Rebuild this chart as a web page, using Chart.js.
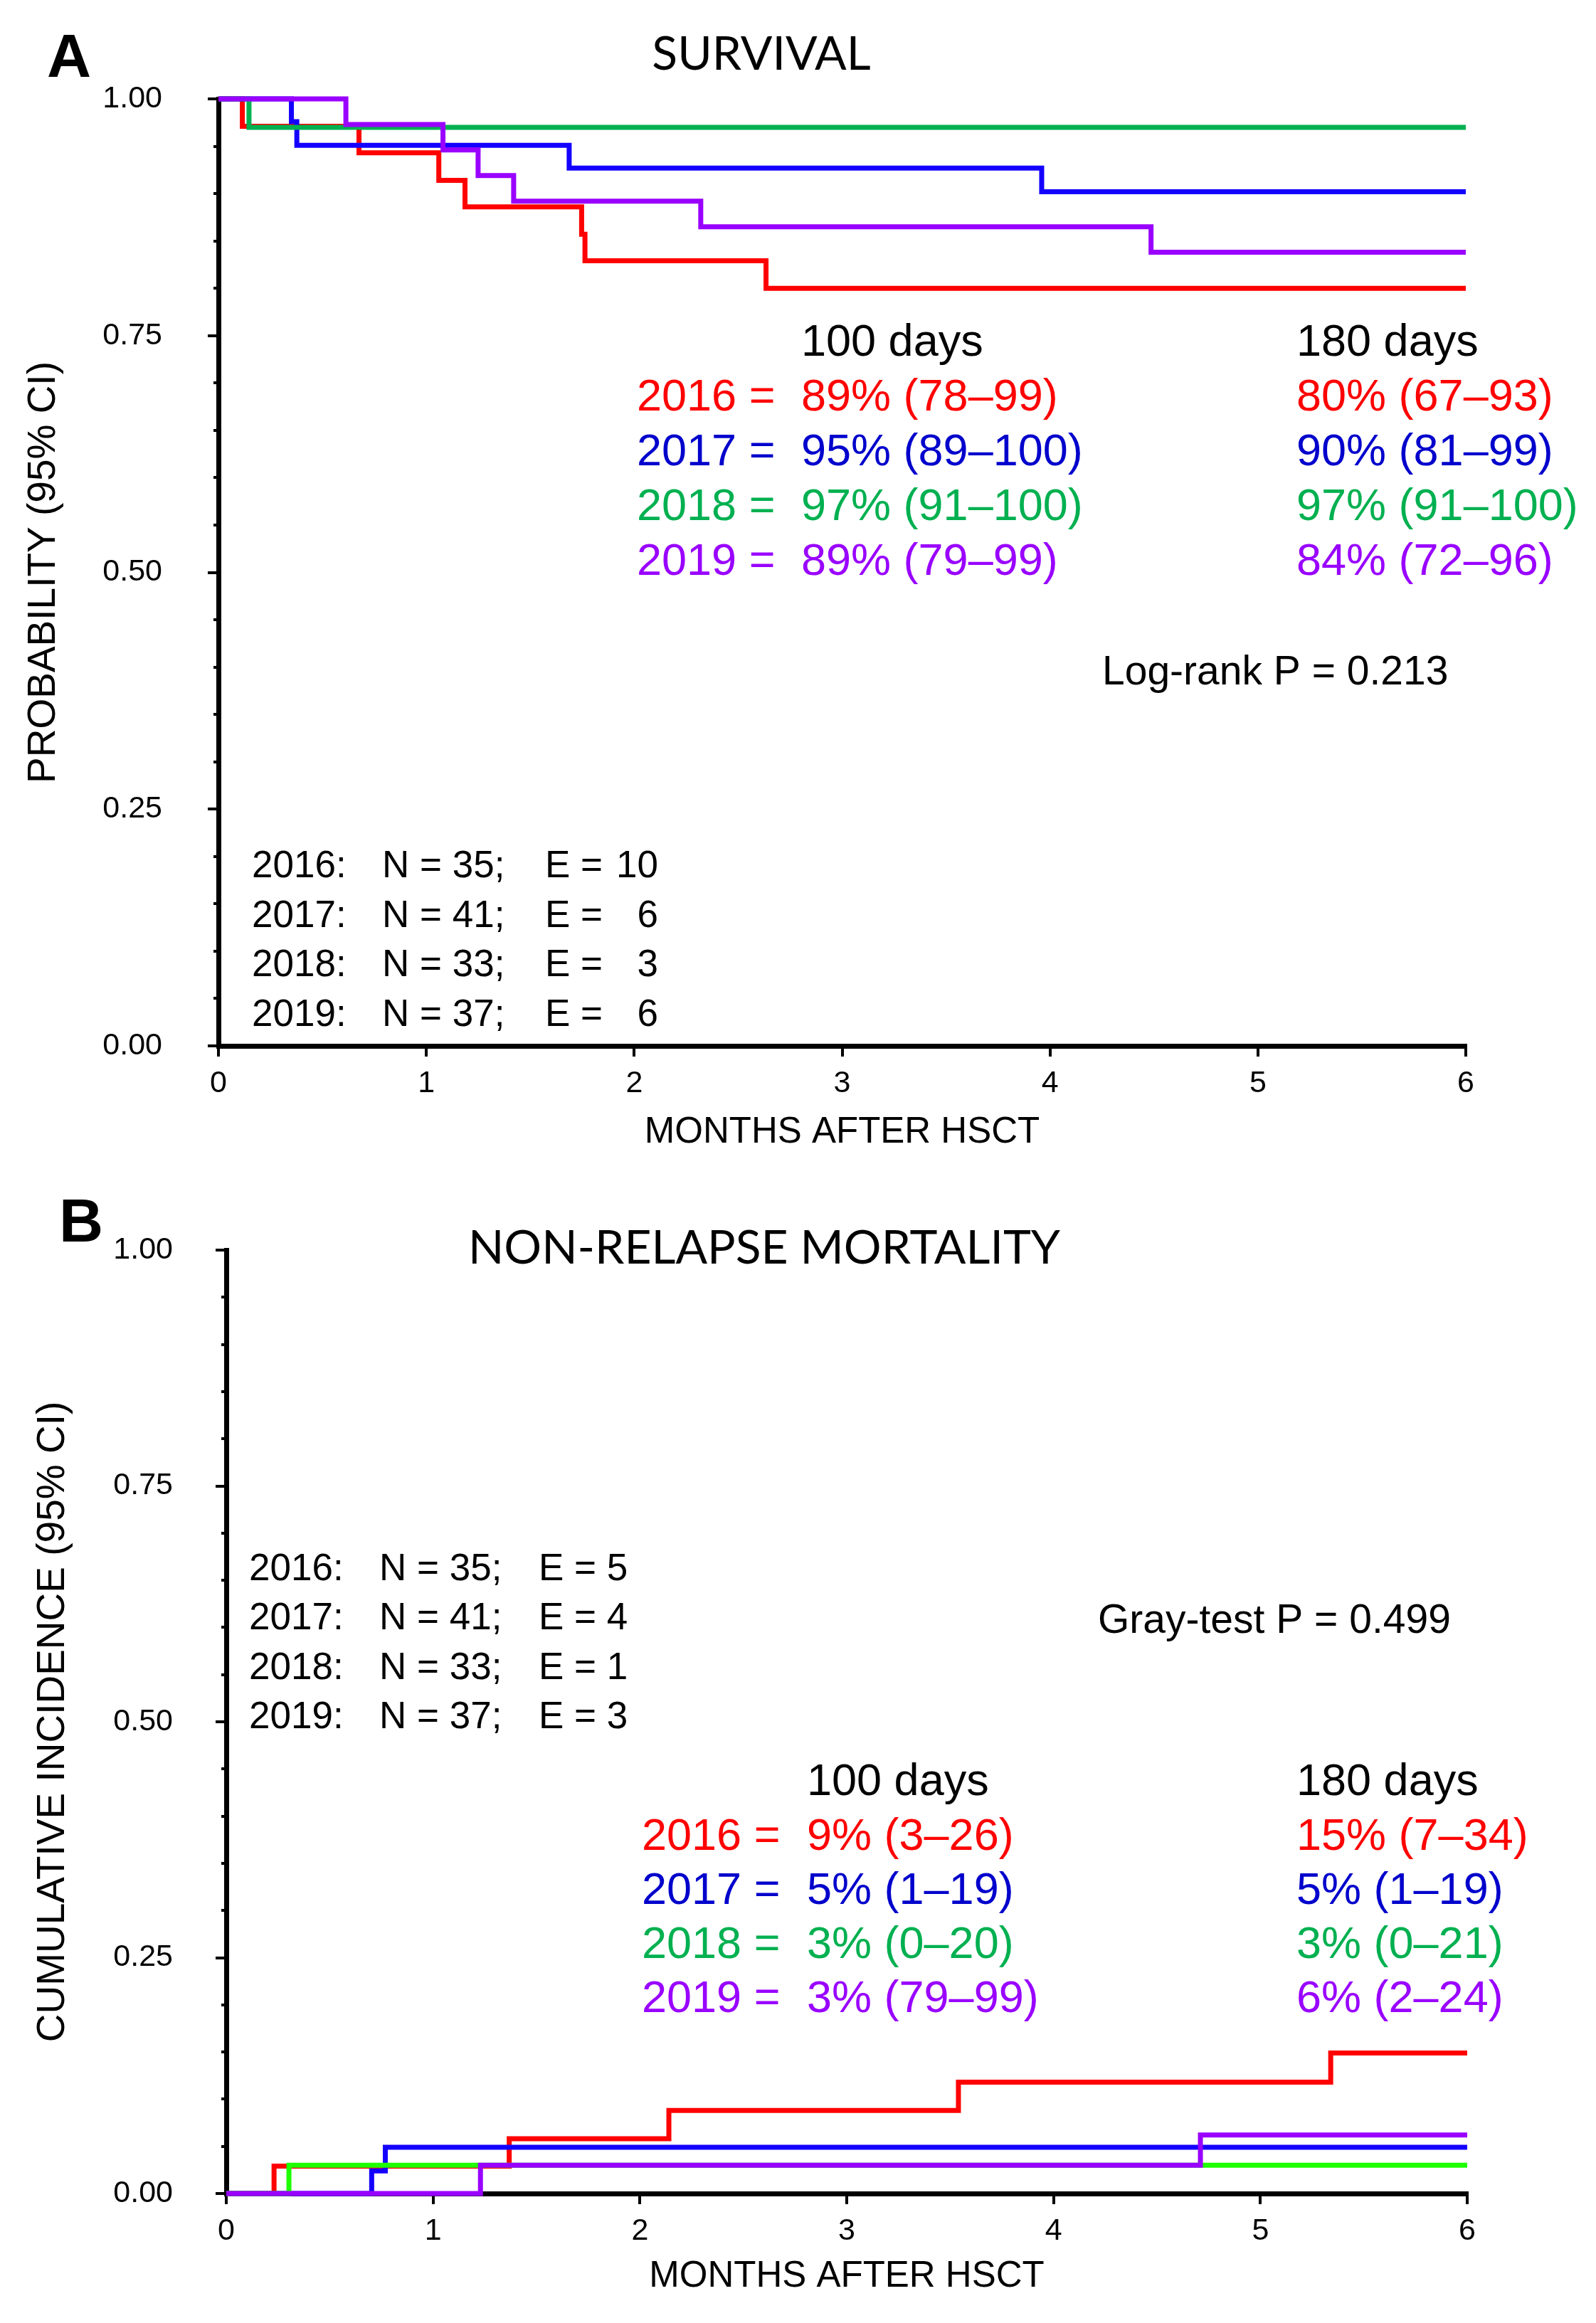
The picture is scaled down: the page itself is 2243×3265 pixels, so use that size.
<!DOCTYPE html>
<html>
<head>
<meta charset="utf-8">
<script src="https://cdn.jsdelivr.net/npm/chart.js@4"></script>
<style>
  html, body { margin: 0; padding: 0; background: #fff; }
  canvas { display: block; }
</style>
</head>
<body>
<canvas id="survChart" width="2243" height="1632"></canvas>
<canvas id="nrmChart" width="2243" height="1633"></canvas>
<script>
// ---- data (months after HSCT) ----
const years = ["2016", "2017", "2018", "2019"];

// panel A: overall survival, step points (time, probability)
const survTime2016 = [0, 0.115, 0.676, 1.06, 1.186, 1.747, 1.763, 2.634, 6];
const survProb2016 = [1, 0.971, 0.943, 0.914, 0.886, 0.857, 0.829, 0.800, 0.800];
const survTime2017 = [0, 0.351, 0.377, 1.687, 3.96, 6];
const survProb2017 = [1, 0.976, 0.951, 0.927, 0.902, 0.902];
const survTime2018 = [0, 0.147, 6];
const survProb2018 = [1, 0.970, 0.970];
const survTime2019 = [0, 0.613, 1.08, 1.249, 1.42, 2.32, 4.486, 6];
const survProb2019 = [1, 0.973, 0.946, 0.919, 0.892, 0.865, 0.838, 0.838];

// panel B: non-relapse mortality, step points (time, cumulative incidence)
const nrmTime2016 = [0, 0.231, 1.368, 2.14, 3.54, 5.34, 6];
const nrmInc2016 = [0, 0.029, 0.058, 0.088, 0.118, 0.149, 0.149];
const nrmTime2017 = [0, 0.703, 0.769, 6];
const nrmInc2017 = [0, 0.024, 0.049, 0.049];
const nrmTime2018 = [0, 0.303, 6];
const nrmInc2018 = [0, 0.030, 0.030];
const nrmTime2019 = [0, 1.229, 4.71, 6];
const nrmInc2019 = [0, 0.030, 0.062, 0.062];

const survN = [35, 41, 33, 37];
const survE = [10, 6, 3, 6];
const surv100 = ["89% (78–99)", "95% (89–100)", "97% (91–100)", "89% (79–99)"];
const surv180 = ["80% (67–93)", "90% (81–99)", "97% (91–100)", "84% (72–96)"];
const nrmN = [35, 41, 33, 37];
const nrmE = [5, 4, 1, 3];
const nrm100 = ["9% (3–26)", "5% (1–19)", "3% (0–20)", "3% (79–99)"];
const nrm180 = ["15% (7–34)", "5% (1–19)", "3% (0–21)", "6% (2–24)"];

const lineColors = ["#ff0000", "#1400ff", "#00b050", "#9900ff"];
const lineColorsB = ["#ff0000", "#1400ff", "#1eff00", "#9900ff"];
const textColors = ["#ff0000", "#0000cc", "#00b050", "#9900ff"];

const FONT = "'Liberation Sans', Arial, sans-serif";
Chart.defaults.font.family = FONT;
Chart.defaults.color = "#000";

function toPoints(times, vals) {
  return times.map((t, i) => ({ x: t, y: vals[i] }));
}

function makeDatasets(timeArrs, valArrs, colors) {
  return timeArrs.map((t, i) => ({
    label: years[i],
    data: toPoints(t, valArrs[i]),
    borderColor: colors[i],
    borderWidth: 7,
    pointRadius: 0,
    stepped: true,
    fill: false,
    clip: false,
    order: 4 - i
  }));
}

// plain text drawn on top of the chart
const textPlugin = {
  id: "texts",
  afterDraw(chart, args, opts) {
    const ctx = chart.ctx;
    ctx.save();
    ctx.textBaseline = "alphabetic";
    opts.items.forEach(t => {
      ctx.font = t.font;
      ctx.fillStyle = t.color || "#000";
      ctx.textAlign = t.align || "left";
      ctx.fillText(t.text, t.x, t.y);
    });
    ctx.restore();
  }
};

function scalesFor(yTitle, yAxisWidth, xHeight, xTitlePad, yTitlePad, yLabelPad) {
  return {
    x: {
      type: "linear", min: 0, max: 6,
      ticks: { stepSize: 1, font: { size: 43 }, padding: 12, color: "#000" },
      grid: { drawOnChartArea: false, tickLength: 15, lineWidth: 4, color: "#000" },
      border: { display: true, width: 7, color: "#000" },
      title: { display: true, text: "MONTHS AFTER HSCT", font: { size: 51, lineHeight: 1 }, color: "#000", padding: { top: 0, bottom: xTitlePad } },
      afterFit: s => { s.height = xHeight; }
    },
    y: {
      type: "linear", min: 0, max: 1, weight: 1,
      ticks: { stepSize: 0.25, font: { size: 43 }, padding: yLabelPad, color: "#000", callback: v => v.toFixed(2) },
      grid: { drawOnChartArea: false, tickLength: 15, lineWidth: 4, color: "#000" },
      border: { display: true, width: 7, color: "#000" },
      title: { display: true, text: yTitle, font: { size: 55, lineHeight: 1 }, color: "#000", padding: { top: yTitlePad, bottom: 0 } },
      afterFit: s => { s.width = yAxisWidth; }
    },
    yMinor: {
      type: "linear", min: 0, max: 1, position: "left", weight: 0,
      ticks: { stepSize: 0.05, display: false, autoSkip: false },
      grid: { drawOnChartArea: false, tickLength: 7, lineWidth: 4, color: "#000" },
      border: { display: false },
      afterFit: s => { s.width = 0; }
    }
  };
}

function rowTexts(x0, xMid, xRight, yHead, yFirst, step, col100, col180) {
  const f = "63px " + FONT;
  const items = [
    { text: "100 days", x: xMid, y: yHead, font: f },
    { text: "180 days", x: xRight, y: yHead, font: f }
  ];
  years.forEach((yr, i) => {
    const y = yFirst + step * i;
    items.push({ text: yr + " =", x: x0, y, font: f, color: textColors[i] });
    items.push({ text: col100[i], x: xMid, y, font: f, color: textColors[i] });
    items.push({ text: col180[i], x: xRight, y, font: f, color: textColors[i] });
  });
  return items;
}

// ---- panel A ----
const itemsA = [
  { text: "A", x: 66, y: 108, font: "bold 86px " + FONT },
  { text: "SURVIVAL", x: 1070, y: 98, font: "66px Lato, " + FONT, align: "center" },
  { text: "Log-rank P = 0.213", x: 1549, y: 962, font: "57px " + FONT }
].concat(rowTexts(895, 1126, 1822, 500, 577, 77, surv100, surv180));
years.forEach((yr, i) => {
  const y = 1233 + 69.7 * i;
  const f = "53px " + FONT;
  itemsA.push({ text: yr + ":", x: 354, y, font: f });
  itemsA.push({ text: "N = " + survN[i] + ";", x: 537, y, font: f });
  itemsA.push({ text: "E =", x: 766, y, font: f });
  itemsA.push({ text: String(survE[i]), x: 925, y, font: f, align: "right" });
});

new Chart(document.getElementById("survChart"), {
  type: "line",
  data: {
    datasets: makeDatasets(
      [survTime2016, survTime2017, survTime2018, survTime2019],
      [survProb2016, survProb2017, survProb2018, survProb2019],
      lineColors)
  },
  options: {
    responsive: false,
    devicePixelRatio: 1,
    animation: false,
    layout: { padding: { top: 139, right: 183, bottom: 0, left: 0 } },
    scales: scalesFor("PROBABILITY (95% CI)", 307, 162, 14.5, 34.5, 64),
    plugins: { legend: { display: false }, tooltip: { enabled: false }, texts: { items: itemsA } }
  },
  plugins: [textPlugin]
});

// ---- panel B ----
const itemsB = [
  { text: "B", x: 83, y: 1745 - 1632, font: "bold 86px " + FONT },
  { text: "NON-RELAPSE MORTALITY", x: 1074, y: 1776 - 1632, font: "66px Lato, " + FONT, align: "center" },
  { text: "Gray-test P = 0.499", x: 1543, y: 2295 - 1632, font: "57px " + FONT }
].concat(rowTexts(902, 1134, 1822, 2523 - 1632, 2600 - 1632, 76, nrm100, nrm180));
years.forEach((yr, i) => {
  const y = 2221 - 1632 + 69.3 * i;
  const f = "53px " + FONT;
  itemsB.push({ text: yr + ":", x: 350, y, font: f });
  itemsB.push({ text: "N = " + nrmN[i] + ";", x: 533, y, font: f });
  itemsB.push({ text: "E = " + nrmE[i], x: 757, y, font: f });
});

new Chart(document.getElementById("nrmChart"), {
  type: "line",
  data: {
    datasets: makeDatasets(
      [nrmTime2016, nrmTime2017, nrmTime2018, nrmTime2019],
      [nrmInc2016, nrmInc2017, nrmInc2018, nrmInc2019],
      lineColorsB)
  },
  options: {
    responsive: false,
    devicePixelRatio: 1,
    animation: false,
    layout: { padding: { top: 125, right: 181, bottom: 0, left: 0 } },
    scales: scalesFor("CUMULATIVE INCIDENCE (95% CI)", 318, 182, 39.5, 47.5, 60),
    plugins: { legend: { display: false }, tooltip: { enabled: false }, texts: { items: itemsB } }
  },
  plugins: [textPlugin]
});
</script>
</body>
</html>
